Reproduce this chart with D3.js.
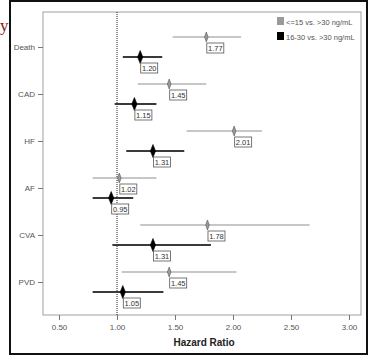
<!DOCTYPE html>
<html>
<head>
<meta charset="utf-8">
<script src="https://cdn.jsdelivr.net/npm/d3@7"></script>
<style>
  body { margin: 0; background: #fff; }
  svg { display: block; font-family: "Liberation Sans", Arial, sans-serif; }
</style>
</head>
<body>
<div id="chart"></div>
<script>
// Outcomes and hazard ratios
const outcomes = ["Death", "CAD", "HF", "AF", "CVA", "PVD"];
const seriesNames = ["<=15 vs. >30 ng/mL", "16-30 vs. >30 ng/mL"];
// <=15 vs >30
const hrLow = [1.77, 1.45, 2.01, 1.02, 1.78, 1.45];
const ciLowLo = [1.48, 1.18, 1.60, 0.79, 1.20, 1.04];
const ciLowHi = [2.07, 1.77, 2.25, 1.34, 2.66, 2.03];
// 16-30 vs >30
const hrMid = [1.20, 1.15, 1.31, 0.95, 1.31, 1.05];
const ciMidLo = [1.05, 0.98, 1.08, 0.79, 0.96, 0.79];
const ciMidHi = [1.39, 1.34, 1.58, 1.14, 1.81, 1.40];
const xTicks = [0.5, 1.0, 1.5, 2.0, 2.5, 3.0];

const W = 369, H = 356;
const plot = { left: 43, top: 12, right: 361, bottom: 315 };

const svg = d3.select("#chart").append("svg")
  .attr("width", W).attr("height", H);

// Outer frame and cropped caption letter
svg.append("rect").attr("x", 10).attr("y", 1).attr("width", 357).attr("height", 353)
  .attr("fill", "none").attr("stroke", "#111").attr("stroke-width", 2);
svg.append("text").attr("x", 0).attr("y", 31)
  .attr("font-family", "'Liberation Serif', 'Times New Roman', serif")
  .attr("font-size", 17).attr("fill", "#8b1a1a").text("y");

const x = d3.scaleLinear().domain([0.5, 3]).range([59, 349]);
const y = d3.scalePoint().domain(outcomes).range([47, 282]);

// Plot frame
svg.append("rect")
  .attr("x", plot.left).attr("y", plot.top)
  .attr("width", plot.right - plot.left).attr("height", plot.bottom - plot.top)
  .attr("fill", "none").attr("stroke", "#a0a0a0").attr("stroke-width", 1);

// Reference line at HR = 1
svg.append("line")
  .attr("x1", x(1)).attr("x2", x(1)).attr("y1", plot.top).attr("y2", plot.bottom)
  .attr("stroke", "#222").attr("stroke-width", 1).attr("stroke-dasharray", "1,1");

// X axis
const xAxis = svg.append("g").attr("transform", `translate(0,${plot.bottom})`)
  .call(d3.axisBottom(x).tickValues(xTicks).tickFormat(d3.format(".2f")).tickSize(5));
xAxis.select(".domain").remove();
xAxis.selectAll("line").attr("stroke", "#777");
xAxis.selectAll("text").attr("font-size", 8).attr("fill", "#555")
  .attr("font-family", "'Liberation Sans', Arial, sans-serif").attr("dy", "0.9em");

svg.append("text").attr("x", 204).attr("y", 346)
  .attr("text-anchor", "middle").attr("font-size", 10).attr("font-weight", "bold")
  .attr("fill", "#222").text("Hazard Ratio");

// Y axis
const yAxis = svg.append("g").attr("transform", `translate(${plot.left},0)`)
  .call(d3.axisLeft(y).tickSize(5));
yAxis.select(".domain").remove();
yAxis.selectAll("line").attr("stroke", "#777");
yAxis.selectAll("text").attr("font-size", 8).attr("fill", "#555")
  .attr("font-family", "'Liberation Sans', Arial, sans-serif");

// Series rows
const series = [
  { hr: hrLow, lo: ciLowLo, hi: ciLowHi, dy: -10, line: "#b4b4b4", fill: "#9a9a9a", mw: 1.8, mh: 5 },
  { hr: hrMid, lo: ciMidLo, hi: ciMidHi, dy: 10, line: "#3a3a3a", fill: "#000", mw: 2.6, mh: 6.5 },
];

series.forEach((s, si) => {
  const rows = outcomes.map((o, i) => ({ o, hr: s.hr[i], lo: s.lo[i], hi: s.hi[i] }));
  const g = svg.append("g");
  const yy = d => y(d.o) + s.dy;

  g.selectAll("line.ci").data(rows).join("line").attr("class", "ci")
    .attr("x1", d => x(d.lo)).attr("x2", d => x(d.hi))
    .attr("y1", yy).attr("y2", yy)
    .attr("stroke", s.line).attr("stroke-width", si === 0 ? 1.5 : 2);

  g.selectAll("path.mk").data(rows).join("path").attr("class", "mk")
    .attr("d", d => {
      const cx = x(d.hr), cy = yy(d);
      return `M${cx},${cy - s.mh}L${cx + s.mw},${cy}L${cx},${cy + s.mh}L${cx - s.mw},${cy}Z`;
    })
    .attr("fill", s.fill).attr("stroke", si === 0 ? "#555" : "#000").attr("stroke-width", 0.6);

  // Value labels in boxes
  const lab = g.selectAll("g.lab").data(rows).join("g").attr("class", "lab")
    .attr("transform", d => `translate(${x(d.hr) + 0.5},${yy(d) + 6})`);
  lab.append("rect").attr("width", 17).attr("height", 10)
    .attr("fill", "#fff").attr("stroke", "#555").attr("stroke-width", 0.8);
  lab.append("text").attr("x", 8.5).attr("y", 8)
    .attr("text-anchor", "middle").attr("font-size", 7.5).attr("fill", "#333")
    .text(d => d3.format(".2f")(d.hr));
});

// Legend
const legend = svg.append("g").attr("transform", "translate(277,17)");
const legendFill = ["#9a9a9a", "#000"];
seriesNames.forEach((name, i) => {
  const row = legend.append("g").attr("transform", `translate(0,${i * 15})`);
  row.append("rect").attr("width", 7).attr("height", 8).attr("fill", legendFill[i]);
  row.append("text").attr("x", 9).attr("y", 7.5).attr("font-size", 7.5)
    .attr("fill", "#555").text(name);
});
</script>
</body>
</html>
